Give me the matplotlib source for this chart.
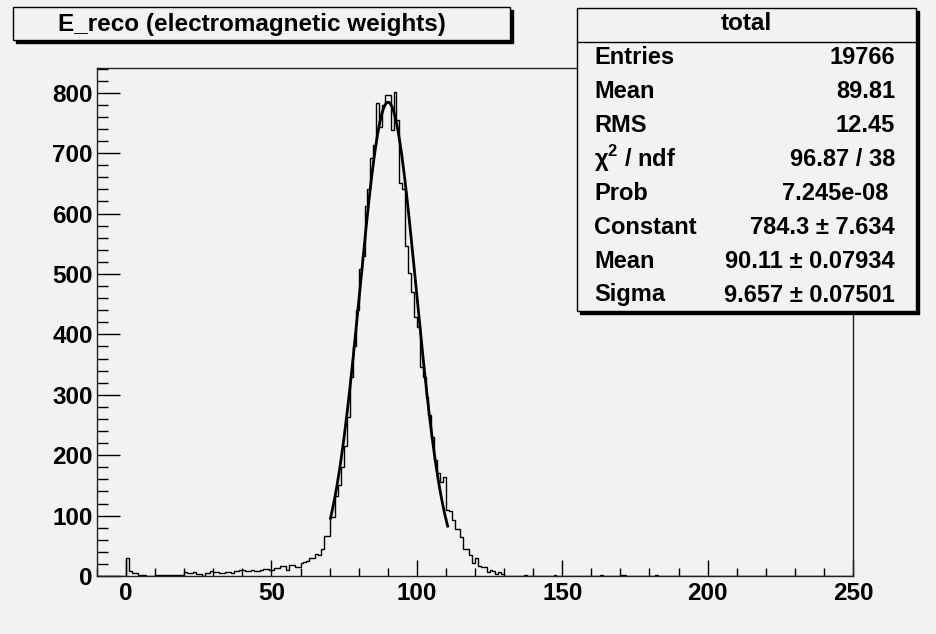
import numpy as np
import matplotlib
matplotlib.use("Agg")
import matplotlib.pyplot as plt
from matplotlib.patches import Rectangle

# contenido de los bins (ancho 1, desde x=0 hasta x=134)
counts_main = [
    30, 8, 5, 5, 1, 1, 1, 0, 0, 0,
    2, 1, 1, 2, 1, 1, 2, 1, 1, 2,
    6, 5, 5, 6, 4, 4, 0, 5, 5, 9,
    7, 7, 5, 5, 6, 6, 5, 8, 8, 10,
    10, 9, 9, 10, 8, 8, 10, 12, 12, 10,
    10, 14, 14, 16, 16, 10, 19, 19, 15, 15,
    22, 24, 25, 29, 30, 36, 34, 45, 66, 66,
    97, 97, 132, 151, 180, 215, 263, 330, 380, 440,
    509, 530, 612, 640, 692, 713, 783, 743, 779, 797,
    797, 739, 801, 755, 650, 640, 547, 501, 470, 428,
    412, 346, 330, 296, 266, 230, 192, 170, 156, 164,
    109, 108, 92, 78, 77, 65, 44, 45, 34, 21,
    29, 16, 15, 15, 7, 10, 8, 3, 6, 4,
    0, 0, 0, 0, 0,
]
# entradas sueltas en la cola derecha
sparse_x = [137, 147, 163, 170, 171, 182]
sparse_n = [1, 1, 1, 2, 1, 1]

# parametros del ajuste gaussiano (caja de estadisticas)
fit_const = 784.3
fit_mean = 90.11
fit_sigma = 9.657
fit_range = (70.3, 110.6)

stat_labels = ["Entries", "Mean", "RMS", "χ$^2$ / ndf", "Prob", "Constant", "Mean", "Sigma"]
stat_values = ["19766", "89.81", "12.45", "96.87 / 38", "7.245e-08",
               "784.3 ± 7.634", "90.11 ± 0.07934", "9.657 ± 0.07501"]

title = "E_reco (electromagnetic weights)"
bg = "#f2f2f2"

plt.rcParams['font.family'] = ['Liberation Sans', 'DejaVu Sans']
plt.rcParams['font.weight'] = 'bold'
plt.rcParams['mathtext.fontset'] = 'custom'
plt.rcParams['mathtext.rm'] = 'Liberation Sans:bold'
plt.rcParams['mathtext.bf'] = 'Liberation Sans:bold'

W, H = 936, 634
fig = plt.figure(figsize=(W / 100, H / 100), dpi=100, facecolor=bg)


def fx(px):
    return px / W


def fy(py):
    return 1 - py / H


ax = fig.add_axes([fx(97), fy(576), fx(853) - fx(97), fy(68) - fy(576)])
ax.set_facecolor(bg)

edges = np.arange(-10, 251)
counts = np.zeros(len(edges) - 1)
counts[10:10 + len(counts_main)] = counts_main
for xv, n in zip(sparse_x, sparse_n):
    counts[xv + 10] = n

ax.stairs(counts, edges, color="black", lw=1.0)

xf = np.linspace(fit_range[0], fit_range[1], 200)
yf = fit_const * np.exp(-0.5 * ((xf - fit_mean) / fit_sigma) ** 2)
ax.plot(xf, yf, color="black", lw=2.0)

ax.set_xlim(-10, 250)
ax.set_ylim(0, 841)
ax.set_xticks(np.arange(0, 251, 50))
ax.set_xticks(np.arange(-10, 251, 10), minor=True)
ax.set_yticks(np.arange(0, 801, 100))
ax.set_yticks(np.arange(0, 841, 20), minor=True)
ax.tick_params(axis='x', which='major', direction='in', length=11.5, width=1, pad=4, labelsize=17.5)
ax.tick_params(axis='x', which='minor', direction='in', length=5.8, width=1)
ax.tick_params(axis='y', which='major', direction='in', length=16.5, width=1, pad=3, labelsize=17.5)
ax.tick_params(axis='y', which='minor', direction='in', length=8, width=1)
for lab in ax.get_xticklabels() + ax.get_yticklabels():
    lab.set_fontweight('bold')
for s in ax.spines.values():
    s.set_linewidth(1)
    s.set_color("#222222")


def shadow_box(x0, y0, x1, y1, sh=3):
    fig.patches.append(Rectangle((fx(x0 + sh), fy(y1 + sh)), fx(x1 - x0), fy(y0) - fy(y1),
                                 transform=fig.transFigure, facecolor="black", edgecolor="black",
                                 lw=1, zorder=5))
    fig.patches.append(Rectangle((fx(x0), fy(y1)), fx(x1 - x0), fy(y0) - fy(y1),
                                 transform=fig.transFigure, facecolor=bg, edgecolor="black",
                                 lw=1, zorder=6))


# caja del titulo
shadow_box(13, 7, 510, 40)
fig.text(fx(252), fy(24), title, ha='center', va='center', fontsize=17.5,
         fontweight='bold', zorder=10)

# caja de estadisticas
shadow_box(577, 8, 916, 311)
fig.lines.append(plt.Line2D([fx(577), fx(916)], [fy(42), fy(42)], transform=fig.transFigure,
                            color="black", lw=1, zorder=7))
fig.text(fx(746), fy(24), "total", ha='center', va='center', fontsize=17.5,
         fontweight='bold', zorder=10)
for i, (lab, val) in enumerate(zip(stat_labels, stat_values)):
    yy = fy(57 + 34 * i)
    fig.text(fx(594), yy, lab, ha='left', va='center', fontsize=17, fontweight='bold', zorder=10)
    xr = 888 if lab == "Prob" else 895
    fig.text(fx(xr), yy, val, ha='right', va='center', fontsize=17, fontweight='bold', zorder=10)

fig.savefig("out.png", dpi=100, facecolor=bg)
